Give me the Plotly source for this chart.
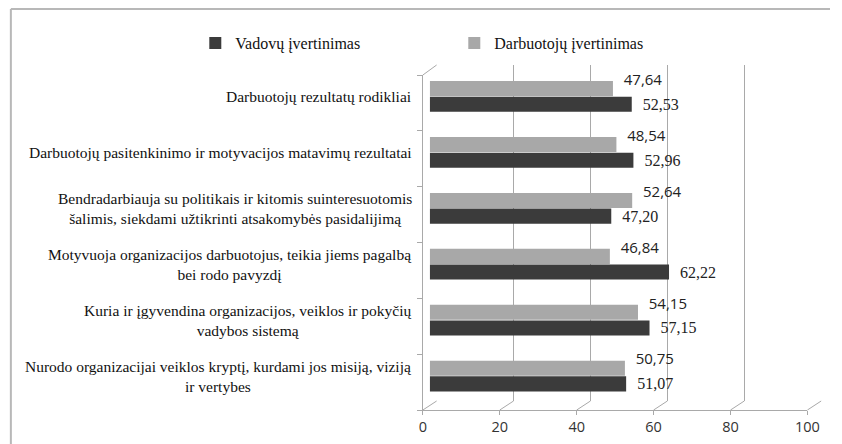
import plotly.graph_objects as go

# ---- data (bottom -> top) ----
categories = [
    "Nurodo organizacijai veiklos kryptį, kurdami jos misiją, viziją<br>ir vertybes",
    "Kuria ir įgyvendina organizacijos, veiklos ir pokyčių<br>vadybos sistemą",
    "Motyvuoja organizacijos darbuotojus, teikia jiems pagalbą<br>bei rodo pavyzdį",
    "Bendradarbiauja su politikais ir kitomis suinteresuotomis<br>šalimis, siekdami užtikrinti atsakomybės pasidalijimą",
    "Darbuotojų pasitenkinimo ir motyvacijos matavimų rezultatai",
    "Darbuotojų rezultatų rodikliai",
]
vadovu = [51.07, 57.15, 62.22, 47.20, 52.96, 52.53]
darbuotoju = [50.75, 54.15, 46.84, 52.64, 48.54, 47.64]
series_names = ["Vadovų įvertinimas", "Darbuotojų įvertinimas"]
x_ticks = [0, 20, 40, 60, 80, 100]

W, H = 842, 444


def px_x(p):
    return p / W


def px_y(p):
    return 1 - p / H


def fmt(v):
    return f"{v:.2f}".replace(".", ",")


NB = "\u00a0"

# domains (pixel based)
back_x = [px_x(441), px_x(833)]
back_y = [px_y(401), px_y(65)]
bar_x = [px_x(434), px_x(826)]
bar_y = [px_y(404), px_y(68.5)]
front_x = [px_x(427), px_x(819)]
front_y = [px_y(410), px_y(75)]

fig = go.Figure()

# back wall subplot (gridlines only)
fig.add_trace(go.Scatter(x=[None], y=[None], xaxis="x", yaxis="y",
                         showlegend=False, hoverinfo="skip"))

fig.add_trace(go.Bar(
    name=series_names[0], y=categories, x=vadovu, orientation="h",
    xaxis="x2", yaxis="y2",
    marker=dict(color="#3b3b3b", line=dict(width=0)),
    text=[NB + NB + fmt(v) for v in vadovu],
    textposition="outside", cliponaxis=False, constraintext="none",
    textfont=dict(family="Liberation Serif", size=16, color="#222222"),
))
fig.add_trace(go.Bar(
    name=series_names[1], y=categories, x=darbuotoju, orientation="h",
    xaxis="x2", yaxis="y2",
    marker=dict(color="#a8a8a8", line=dict(width=0)),
    text=[NB + NB + fmt(v) + "<br>" + NB for v in darbuotoju],
    textposition="outside", cliponaxis=False, constraintext="none",
    textfont=dict(family="Open Sans", size=15, color="#222222"),
))

# front floor subplot (tick labels)
fig.add_trace(go.Scatter(x=[None], y=[None], xaxis="x3", yaxis="y3",
                         showlegend=False, hoverinfo="skip"))

grid_col = "#a9a9a9"

shapes = []
# floor diagonals from front ticks to back gridlines
for v in x_ticks:
    fx = front_x[0] + (front_x[1] - front_x[0]) * v / 100
    bx = back_x[0] + (back_x[1] - back_x[0]) * v / 100
    shapes.append(dict(type="line", xref="paper", yref="paper",
                       x0=fx, y0=front_y[0], x1=bx, y1=back_y[0],
                       line=dict(color=grid_col, width=1)))
# top-left wall diagonal
shapes.append(dict(type="line", xref="paper", yref="paper",
                   x0=front_x[0], y0=front_y[1], x1=back_x[0], y1=back_y[1],
                   line=dict(color=grid_col, width=1)))
# outer frame (top and left edges visible)
shapes.append(dict(type="line", xref="paper", yref="paper",
                   x0=px_x(7), y0=px_y(9), x1=1.0, y1=px_y(9),
                   line=dict(color="#b8b8b8", width=2)))
shapes.append(dict(type="line", xref="paper", yref="paper",
                   x0=px_x(7), y0=px_y(9), x1=px_x(7), y1=0,
                   line=dict(color="#b8b8b8", width=2)))

annotations = []
for c in categories:
    annotations.append(dict(
        x=px_x(418), xref="paper", xanchor="right",
        y=c, yref="y2", yanchor="middle",
        text=c, showarrow=False, align="center",
        font=dict(family="Liberation Serif", size=15.5, color="#111111"),
    ))

fig.update_layout(
    width=W, height=H,
    margin=dict(l=0, r=0, t=0, b=0),
    paper_bgcolor="white", plot_bgcolor="rgba(0,0,0,0)",
    barmode="group", bargap=0.44, bargroupgap=0.04,
    showlegend=True,
    legend=dict(orientation="h", x=px_x(195), xanchor="left",
                y=px_y(43), yanchor="middle", traceorder="normal",
                font=dict(family="Liberation Serif", size=16, color="#111111"),
                entrywidth=214, bgcolor="rgba(0,0,0,0)"),
    xaxis=dict(domain=back_x, anchor="y", range=[0, 100.001],
               tickvals=x_ticks, showticklabels=False, ticks="",
               showgrid=True, gridcolor=grid_col, gridwidth=1,
               zeroline=False, showline=False, fixedrange=True),
    yaxis=dict(domain=back_y, anchor="x", range=[0, 1], visible=False,
               fixedrange=True),
    xaxis2=dict(domain=bar_x, anchor="y2", range=[0, 100], visible=False,
                fixedrange=True),
    yaxis2=dict(domain=bar_y, anchor="x2", type="category",
                categoryorder="array", categoryarray=categories,
                visible=False, fixedrange=True),
    xaxis3=dict(domain=front_x, anchor="y3", range=[0, 100],
                tickvals=x_ticks, ticktext=[str(t) for t in x_ticks],
                ticks="outside", ticklen=4, tickcolor=grid_col,
                showline=True, linecolor=grid_col, linewidth=1,
                showgrid=False, zeroline=False,
                tickfont=dict(family="Open Sans", size=14.5, color="#333333"),
                fixedrange=True),
    yaxis3=dict(domain=front_y, anchor="x3", range=[0, 6],
                tickvals=list(range(7)), showticklabels=False,
                ticks="outside", ticklen=5, tickcolor=grid_col,
                showline=True, linecolor=grid_col, linewidth=1,
                showgrid=False, zeroline=False, fixedrange=True),
    shapes=shapes,
    annotations=annotations,
)

fig.write_html(
    "out.html",
    config={"displayModeBar": False},
    post_script="document.body.style.margin='0';document.body.style.overflow='hidden';",
)
